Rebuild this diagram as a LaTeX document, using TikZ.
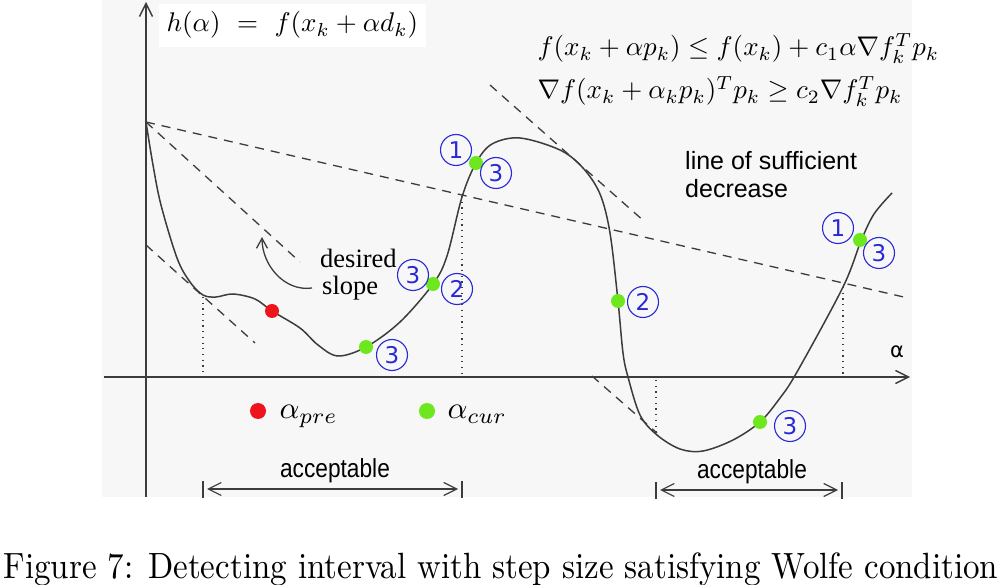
\documentclass[tikz,border=0pt]{standalone}
\usepackage{amsmath,amssymb}
\usepackage{fontspec}
\newfontfamily\arialfont{Liberation Sans}
\newfontfamily\timesfont{Liberation Serif}
\newfontfamily\dejafont{DejaVu Sans}
\usetikzlibrary{arrows.meta}
\definecolor{bg_gray}{RGB}{247,247,247}
\definecolor{line_gray}{RGB}{60,60,60}
\definecolor{dot_green}{RGB}{110,232,30}
\definecolor{dot_red}{RGB}{238,20,30}
\definecolor{num_blue}{RGB}{40,40,215}

\begin{document}
\begin{tikzpicture}[x=1pt,y=-1pt,>={Straight Barb[length=13pt,width=13pt]}]
    \tikzstyle{num}=[draw=num_blue, line width=1.1pt, circle, minimum size=31pt, inner sep=0pt, text=num_blue, font=\dejafont\fontsize{23}{23}\selectfont]
    \tikzstyle{cur}=[circle, fill=dot_green, minimum size=14pt, inner sep=0pt]
    \tikzstyle{pre}=[circle, fill=dot_red, minimum size=14pt, inner sep=0pt]
    \tikzstyle{tangent}=[draw=line_gray, line width=1.3pt, dash pattern=on 9pt off 7pt]
    \tikzstyle{guide}=[draw=line_gray, line width=1.1pt, dash pattern=on 1.2pt off 4.5pt]
    \tikzstyle{formula}=[inner sep=0pt, font=\fontsize{10}{12}\selectfont, scale=2.7]
    \tikzstyle{label}=[inner sep=0pt, anchor=base west]

    \fill[bg_gray] (102,0) rectangle (912,497);
    \useasboundingbox (0,0) rectangle (1002,585);

    % axes
    \coordinate (ybot) at (146,497);
    \coordinate (ytop) at (146,2);
    \coordinate (xleft) at (104,377);
    \coordinate (xright) at (910,377);
    \draw[line_gray, line width=1.4pt, ->] (ybot) -- (ytop);
    \draw[line_gray, line width=1.4pt, ->] (xleft) -- (xright);
    \node[font=\dejafont\fontsize{21}{21}\selectfont] (alpha) at (897,352) {α};

    % tangents and line of sufficient decrease
    \coordinate (h0) at (146,122);
    \coordinate (suffend) at (908,298);
    \coordinate (steepend) at (300,262);
    \coordinate (ta) at (146,245);
    \coordinate (tb) at (255,343);
    \coordinate (tc) at (490,85);
    \coordinate (td) at (645,222);
    \coordinate (te) at (592,376);
    \coordinate (tf) at (657,433);
    \path[tangent] (h0) -- (suffend);
    \path[tangent] (h0) -- (steepend);
    \path[tangent] (ta) -- (tb);
    \path[tangent] (tc) -- (td);
    \path[tangent] (te) -- (tf);

    % interval bounds
    \coordinate (g1) at (203,297);
    \coordinate (g2) at (462,196);
    \coordinate (g3) at (843,287);
    \coordinate (g4) at (656,380);
    \path[guide] (g1) -- (203,377);
    \path[guide] (g2) -- (462,377);
    \path[guide] (g3) -- (843,377);
    \path[guide] (g4) -- (656,433);

    % h(alpha)
    \draw[line_gray, line width=1.5pt] plot[smooth, tension=0.55] coordinates {
      (146,122) (153,165) (161,205) (177,258) (190,282) (203,295) (216,297)
      (233,294) (255,299) (272,311) (300,328) (318,345) (338,356) (366,347)
      (400,322) (433,284) (447,256) (462,197) (476,163) (492,144) (520,138)
      (560,150) (583,168) (600,194) (610,233) (618,301) (623,353) (628,377)
      (640,415) (657,435) (680,449) (703,451) (733,440) (760,422) (780,398)
      (797,372) (843,287) (861,241) (874,214) (892,193)};

    \node[pre] (red) at (272,311) {};
    \node[cur] (ga) at (476,163) {};
    \node[cur] (gb) at (433,284) {};
    \node[cur] (gc) at (366,347) {};
    \node[cur] (gd) at (618,301) {};
    \node[cur] (ge) at (860,240) {};
    \node[cur] (gf) at (760,422) {};

    \node[num] (c1a) at (456,150) {1};
    \node[num] (c3a) at (496,173) {3};
    \node[num] (c3b) at (413,275) {3};
    \node[num] (c2b) at (457,289) {2};
    \node[num] (c3c) at (392,355) {3};
    \node[num] (c2d) at (643,302) {2};
    \node[num] (c1e) at (838,228) {1};
    \node[num] (c3e) at (879,253) {3};
    \node[num] (c3f) at (790,426) {3};

    % texts
    \node[formula, fill=white, inner sep=3pt, anchor=base west] (hdef) at (158,32) {$h(\alpha)\ =\ f(x_k+\alpha d_k)$};
    \node[formula, anchor=base west] (armijo) at (537,56) {$f(x_k+\alpha p_k)\le f(x_k)+c_1\alpha\nabla f_k^T p_k$};
    \node[formula, anchor=base west] (curv) at (537,99) {$\nabla f(x_k+\alpha_k p_k)^T p_k\ge c_2\nabla f_k^T p_k$};

    \node[label, font=\arialfont\fontsize{25}{25}\selectfont] (suff1) at (685,170) {line of sufficient};
    \node[label, font=\arialfont\fontsize{25}{25}\selectfont] (suff2) at (685,198) {decrease};
    \node[label, font=\timesfont\fontsize{26.5}{26.5}\selectfont] (desired) at (320,268) {desired};
    \node[label, font=\timesfont\fontsize{26.5}{26.5}\selectfont] (slope) at (322,295) {slope};

    \coordinate (slopetail) at (312,288);
    \coordinate (slopetip) at (262,237);
    \draw[line_gray, line width=1.3pt, ->, >={Straight Barb[length=10pt,width=11pt]}] (slopetail) to[out=188,in=-90] (slopetip);

    % legend
    \node[pre, minimum size=16pt] (legred) at (258,411) {};
    \node[formula, scale=3.1/2.7, anchor=base west] (legpre) at (279,419) {$\alpha_{pre}$};
    \node[cur, minimum size=16pt] (leggreen) at (427,411) {};
    \node[formula, scale=3.1/2.7, anchor=base west] (legcur) at (447,419) {$\alpha_{cur}$};

    % acceptable intervals
    \coordinate (a1l) at (203,489);
    \coordinate (a1r) at (462,489);
    \coordinate (a2l) at (656,490);
    \coordinate (a2r) at (842,490);
    \draw[line_gray, line width=1.2pt, <->, shorten <=4pt, shorten >=4pt] (a1l) -- (a1r);
    \draw[line_gray, line width=1.2pt, <->, shorten <=4pt, shorten >=4pt] (a2l) -- (a2r);
    \foreach \p in {a1l,a1r,a2l,a2r}
      \draw[line_gray, line width=1.2pt] ([yshift=-9pt]\p) -- ([yshift=8pt]\p);
    \node[inner sep=0pt, anchor=base, yscale=1.15, font=\arialfont\fontsize{22.7}{22.7}\selectfont] (acc1) at (335,477) {acceptable};
    \node[inner sep=0pt, anchor=base, yscale=1.15, font=\arialfont\fontsize{22.7}{22.7}\selectfont] (acc2) at (752,478) {acceptable};

    % caption
    \node[inner sep=0pt, anchor=base, font=\fontsize{10}{12}\selectfont, xscale=3.3, yscale=3.65] (caption) at (501,578) {Figure 7: Detecting interval with step size satisfying Wolfe condition};
\end{tikzpicture}
\end{document}
